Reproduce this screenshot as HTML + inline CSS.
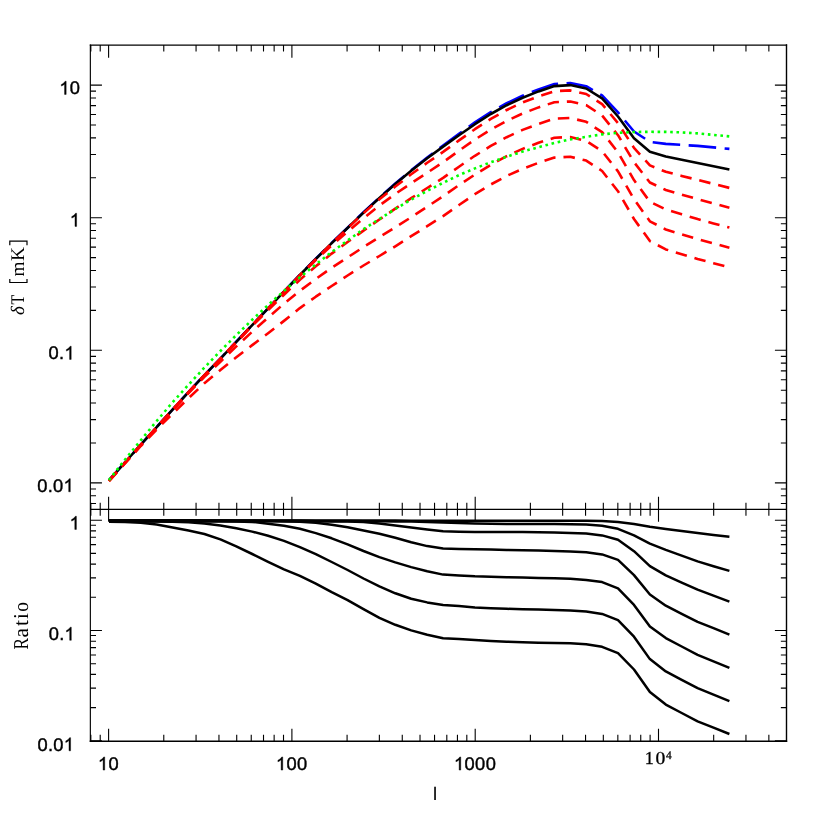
<!DOCTYPE html>
<html><head><meta charset="utf-8"><title>plot</title>
<style>
html,body{margin:0;padding:0;background:#fff;}
svg{display:block;will-change:transform;}
text{font-family:"Liberation Sans",sans-serif;font-size:18.3px;fill:#000;text-rendering:geometricPrecision;stroke:#000;stroke-width:0.45px;}
.serif text{font-family:"Liberation Serif",serif;stroke:none;}
.c{fill:none;stroke-width:2.6;stroke-linejoin:round;stroke-linecap:butt;}
</style></head><body>
<svg width="830" height="830" viewBox="0 0 830 830">
<rect width="830" height="830" fill="#fff"/>
<g class="c">
<path d="M109.0,480.2L124.9,462.4L140.8,444.6L156.7,427.0L172.6,409.5L188.5,392.0L204.4,375.0L220.4,358.6L236.3,341.7L252.2,325.0L268.1,308.3L284.0,291.5L299.9,274.8L315.8,258.7L331.7,242.9L347.6,227.7L363.5,212.3L379.4,197.6L395.3,183.6L411.2,170.2L427.2,157.6L443.1,145.5L459.0,133.8L474.9,122.4L490.8,112.2L506.7,103.2L522.6,95.7L538.5,89.4L554.4,84.1L570.3,83.0L586.2,86.2L602.1,95.4L618.0,112.4L634.0,131.5L649.9,141.8L665.8,143.9L681.7,144.9L697.6,145.9L713.5,147.4L729.4,148.9" stroke="#0000ff" stroke-dasharray="27.6 8.5"/>
<path d="M109.0,480.3L124.9,462.5L140.8,444.7L156.7,427.1L172.6,409.6L188.5,392.1L204.4,375.1L220.4,358.7L236.3,341.8L252.2,325.1L268.1,308.4L284.0,291.6L299.9,275.0L315.8,259.0L331.7,243.2L347.6,228.0L363.5,212.6L379.4,198.0L395.3,184.1L411.2,170.8L427.2,158.3L443.1,146.6L459.0,135.2L474.9,124.2L490.8,114.0L506.7,105.2L522.6,97.7L538.5,91.4L554.4,86.1L570.3,85.1L586.2,88.5L602.1,98.3L618.0,116.5L634.0,138.3L649.9,151.8L665.8,156.4L681.7,159.7L697.6,162.9L713.5,166.2L729.4,169.4" stroke="#000"/>
<g stroke="#ff0000" stroke-dasharray="11.5 7.95">
<path d="M109.0,480.5L124.9,462.7L140.8,444.9L156.7,427.2L172.6,409.7L188.5,392.3L204.4,375.3L220.4,358.8L236.3,342.0L252.2,325.2L268.1,308.6L284.0,291.8L299.9,275.2L315.8,259.2L331.7,243.4L347.6,228.3L363.5,213.1L379.4,199.3L395.3,186.6L411.2,174.3L427.2,162.8L443.1,151.9L459.0,140.4L474.9,129.2L490.8,118.9L506.7,110.0L522.6,102.5L538.5,96.4L554.4,91.2L570.3,90.4L586.2,94.0L602.1,104.1L618.0,123.1L634.0,147.9L649.9,165.4L665.8,171.8L681.7,175.9L697.6,179.9L713.5,183.9L729.4,187.9"/>
<path d="M109.0,480.6L124.9,462.8L140.8,445.0L156.7,427.4L172.6,409.9L188.5,392.4L204.4,375.4L220.4,359.0L236.3,342.2L252.2,325.4L268.1,308.8L284.0,292.0L299.9,275.5L315.8,260.1L331.7,245.4L347.6,231.7L363.5,218.2L379.4,205.5L395.3,193.9L411.2,183.3L427.2,172.8L443.1,162.2L459.0,150.7L474.9,139.6L490.8,129.5L506.7,120.8L522.6,113.5L538.5,107.4L554.4,102.2L570.3,101.5L586.2,105.2L602.1,115.5L618.0,135.2L634.0,162.2L649.9,182.5L665.8,190.0L681.7,194.6L697.6,199.2L713.5,203.5L729.4,207.7"/>
<path d="M109.0,480.8L124.9,463.0L140.8,445.2L156.7,427.6L172.6,410.1L188.5,392.6L204.4,375.6L220.4,359.2L236.3,342.4L252.2,325.8L268.1,310.2L284.0,294.7L299.9,279.8L315.8,266.3L331.7,253.6L347.6,242.0L363.5,230.6L379.4,219.5L395.3,208.7L411.2,198.2L427.2,188.0L443.1,177.9L459.0,166.7L474.9,155.8L490.8,145.9L506.7,137.2L522.6,129.9L538.5,123.9L554.4,118.7L570.3,118.0L586.2,121.8L602.1,132.1L618.0,152.3L634.0,180.1L649.9,201.8L665.8,209.5L681.7,214.3L697.6,219.1L713.5,223.4L729.4,227.6"/>
<path d="M109.0,481.0L124.9,463.2L140.8,445.4L156.7,427.8L172.6,410.3L188.5,393.1L204.4,376.9L220.4,361.7L236.3,346.4L252.2,331.7L268.1,317.5L284.0,303.7L299.9,290.8L315.8,279.0L331.7,267.8L347.6,257.4L363.5,247.1L379.4,237.1L395.3,227.3L411.2,217.2L427.2,206.7L443.1,196.2L459.0,185.1L474.9,174.6L490.8,164.8L506.7,156.2L522.6,148.9L538.5,142.8L554.4,137.7L570.3,137.1L586.2,140.9L602.1,151.3L618.0,171.4L634.0,199.2L649.9,221.3L665.8,229.5L681.7,234.3L697.6,239.1L713.5,243.4L729.4,247.7"/>
<path d="M109.0,481.1L124.9,463.5L140.8,446.0L156.7,429.5L172.6,413.7L188.5,398.2L204.4,383.2L220.4,370.0L236.3,357.3L252.2,345.1L268.1,333.2L284.0,320.9L299.9,308.1L315.8,296.7L331.7,286.0L347.6,275.5L363.5,265.5L379.4,256.0L395.3,246.3L411.2,236.2L427.2,226.1L443.1,216.1L459.0,205.0L474.9,194.2L490.8,184.5L506.7,175.9L522.6,168.8L538.5,162.8L554.4,157.6L570.3,156.8L586.2,160.6L602.1,171.0L618.0,191.2L634.0,219.0L649.9,241.1L665.8,249.4L681.7,254.2L697.6,259.0L713.5,263.2L729.4,267.4"/>
</g>
<path d="M109.0,480.1L124.9,459.7L140.8,440.3L156.7,421.0L172.6,402.3L188.5,384.8L204.4,367.6L220.4,351.0L236.3,335.1L252.2,319.8L268.1,305.1L284.0,290.9L299.9,277.3L315.8,264.4L331.7,252.0L347.6,240.5L363.5,229.2L379.4,219.0L395.3,209.0L411.2,199.6L427.2,190.9L443.1,182.8L459.0,175.1L474.9,168.4L490.8,162.3L506.7,156.7L522.6,151.6L538.5,147.2L554.4,142.9L570.3,139.4L586.2,136.8L602.1,134.4L618.0,132.9L634.0,132.0L649.9,131.8L665.8,131.9L681.7,132.4L697.6,133.4L713.5,134.9L729.4,136.4" stroke="#00ff00" stroke-dasharray="2.6 3.695"/>
<g stroke="#000" stroke-width="2.5">
<path d="M109.0,520.2L124.9,520.2L140.8,520.3L156.7,520.3L172.6,520.3L188.5,520.3L204.4,520.4L220.4,520.4L236.3,520.4L252.2,520.4L268.1,520.5L284.0,520.5L299.9,520.5L315.8,520.5L331.7,520.5L347.6,520.6L363.5,520.6L379.4,520.6L395.3,520.6L411.2,520.7L427.2,520.7L443.1,520.7L459.0,520.7L474.9,520.7L490.8,520.7L506.7,520.7L522.6,520.7L538.5,520.7L554.4,520.7L570.3,520.7L586.2,520.7L602.1,521.0L618.0,521.9L634.0,524.0L649.9,526.8L665.8,529.0L681.7,531.1L697.6,533.1L713.5,535.0L729.4,536.8"/><path d="M109.0,520.4L124.9,520.4L140.8,520.4L156.7,520.4L172.6,520.4L188.5,520.5L204.4,520.5L220.4,520.5L236.3,520.6L252.2,520.6L268.1,520.7L284.0,520.7L299.9,520.8L315.8,520.9L331.7,521.0L347.6,521.1L363.5,521.2L379.4,521.3L395.3,521.4L411.2,521.6L427.2,521.9L443.1,522.4L459.0,523.1L474.9,523.6L490.8,523.8L506.7,523.9L522.6,524.0L538.5,524.0L554.4,524.0L570.3,524.2L586.2,524.5L602.1,525.7L618.0,528.8L634.0,535.4L649.9,543.6L665.8,549.9L681.7,555.6L697.6,561.4L713.5,566.2L729.4,570.9"/><path d="M109.0,520.7L124.9,520.7L140.8,520.7L156.7,520.7L172.6,520.7L188.5,520.8L204.4,520.8L220.4,520.8L236.3,520.9L252.2,520.9L268.1,521.0L284.0,521.1L299.9,521.1L315.8,521.2L331.7,521.4L347.6,521.5L363.5,521.9L379.4,523.5L395.3,525.5L411.2,527.4L427.2,529.4L443.1,531.3L459.0,531.7L474.9,531.9L490.8,531.9L506.7,532.0L522.6,532.0L538.5,532.2L554.4,532.5L570.3,533.0L586.2,533.6L602.1,535.4L618.0,539.8L634.0,551.2L649.9,566.1L665.8,575.4L681.7,582.6L697.6,589.7L713.5,595.7L729.4,601.6"/><path d="M109.0,520.9L124.9,520.9L140.8,520.9L156.7,520.9L172.6,521.0L188.5,521.0L204.4,521.0L220.4,521.1L236.3,521.2L252.2,521.2L268.1,521.3L284.0,521.5L299.9,521.7L315.8,522.8L331.7,524.7L347.6,527.2L363.5,530.4L379.4,533.7L395.3,537.8L411.2,542.3L427.2,546.1L443.1,548.4L459.0,548.9L474.9,549.2L490.8,549.6L506.7,549.9L522.6,550.3L538.5,550.6L554.4,550.9L570.3,551.5L586.2,552.2L602.1,554.4L618.0,559.9L634.0,575.1L649.9,594.5L665.8,605.7L681.7,613.8L697.6,621.8L713.5,628.2L729.4,634.6"/><path d="M109.0,521.2L124.9,521.2L140.8,521.2L156.7,521.2L172.6,521.3L188.5,521.3L204.4,521.4L220.4,521.4L236.3,521.5L252.2,521.9L268.1,523.7L284.0,525.8L299.9,528.7L315.8,533.1L331.7,538.3L347.6,544.4L363.5,551.0L379.4,557.1L395.3,562.4L411.2,567.1L427.2,571.3L443.1,574.6L459.0,575.4L474.9,576.3L490.8,576.8L506.7,577.2L522.6,577.6L538.5,578.0L554.4,578.2L570.3,578.8L586.2,579.9L602.1,582.1L618.0,588.4L634.0,604.9L649.9,626.6L665.8,638.1L681.7,646.5L697.6,654.8L713.5,661.3L729.4,667.8"/><path d="M109.0,521.5L124.9,521.5L140.8,521.5L156.7,521.6L172.6,521.7L188.5,522.2L204.4,523.6L220.4,525.6L236.3,528.2L252.2,531.6L268.1,535.8L284.0,540.9L299.9,547.1L315.8,554.1L331.7,562.0L347.6,570.0L363.5,578.5L379.4,586.4L395.3,593.3L411.2,598.8L427.2,602.4L443.1,605.0L459.0,606.1L474.9,607.5L490.8,608.3L506.7,608.8L522.6,609.2L538.5,609.5L554.4,609.9L570.3,610.6L586.2,611.6L602.1,613.9L618.0,620.2L634.0,636.7L649.9,659.1L665.8,671.4L681.7,679.8L697.6,688.1L713.5,694.6L729.4,701.1"/><path d="M109.0,521.7L124.9,522.0L140.8,522.7L156.7,524.4L172.6,527.4L188.5,530.6L204.4,534.0L220.4,539.4L236.3,546.4L252.2,554.0L268.1,561.9L284.0,569.4L299.9,575.9L315.8,583.7L331.7,592.2L347.6,600.2L363.5,609.1L379.4,617.8L395.3,624.8L411.2,630.4L427.2,634.8L443.1,638.2L459.0,639.1L474.9,640.1L490.8,640.9L506.7,641.7L522.6,642.3L538.5,642.7L554.4,642.9L570.3,643.3L586.2,644.3L602.1,646.8L618.0,653.1L634.0,669.5L649.9,692.0L665.8,704.6L681.7,713.0L697.6,721.3L713.5,727.7L729.4,734.0"/>
</g>
</g>
<g fill="none" stroke="#000" stroke-linecap="square">
<path d="M90.35,45.05V741.25" stroke-width="1.15"/>
<path d="M90.35,45.05H786.5" stroke-width="1.15"/>
<path d="M786.5,45.05V741.25" stroke-width="1.4"/>
<path d="M90.35,741.25H786.5" stroke-width="1.35"/>
<path d="M90.35,509.27H786.5" stroke-width="1.25" stroke-linecap="butt"/>
<path d="M90.84,45.05V51.50M90.84,502.82V515.72M90.84,734.80V741.25M100.21,45.05V51.50M100.21,502.82V515.72M100.21,734.80V741.25M108.60,45.05V57.65M108.60,496.67V521.87M108.60,728.65V741.25M163.78,45.05V51.50M163.78,502.82V515.72M163.78,734.80V741.25M196.06,45.05V51.50M196.06,502.82V515.72M196.06,734.80V741.25M218.96,45.05V51.50M218.96,502.82V515.72M218.96,734.80V741.25M236.72,45.05V51.50M236.72,502.82V515.72M236.72,734.80V741.25M251.24,45.05V51.50M251.24,502.82V515.72M251.24,734.80V741.25M263.51,45.05V51.50M263.51,502.82V515.72M263.51,734.80V741.25M274.14,45.05V51.50M274.14,502.82V515.72M274.14,734.80V741.25M283.51,45.05V51.50M283.51,502.82V515.72M283.51,734.80V741.25M291.90,45.05V57.65M291.90,496.67V521.87M291.90,728.65V741.25M347.08,45.05V51.50M347.08,502.82V515.72M347.08,734.80V741.25M379.36,45.05V51.50M379.36,502.82V515.72M379.36,734.80V741.25M402.26,45.05V51.50M402.26,502.82V515.72M402.26,734.80V741.25M420.02,45.05V51.50M420.02,502.82V515.72M420.02,734.80V741.25M434.54,45.05V51.50M434.54,502.82V515.72M434.54,734.80V741.25M446.81,45.05V51.50M446.81,502.82V515.72M446.81,734.80V741.25M457.44,45.05V51.50M457.44,502.82V515.72M457.44,734.80V741.25M466.81,45.05V51.50M466.81,502.82V515.72M466.81,734.80V741.25M475.20,45.05V57.65M475.20,496.67V521.87M475.20,728.65V741.25M530.38,45.05V51.50M530.38,502.82V515.72M530.38,734.80V741.25M562.66,45.05V51.50M562.66,502.82V515.72M562.66,734.80V741.25M585.56,45.05V51.50M585.56,502.82V515.72M585.56,734.80V741.25M603.32,45.05V51.50M603.32,502.82V515.72M603.32,734.80V741.25M617.84,45.05V51.50M617.84,502.82V515.72M617.84,734.80V741.25M630.11,45.05V51.50M630.11,502.82V515.72M630.11,734.80V741.25M640.74,45.05V51.50M640.74,502.82V515.72M640.74,734.80V741.25M650.11,45.05V51.50M650.11,502.82V515.72M650.11,734.80V741.25M658.50,45.05V57.65M658.50,496.67V521.87M658.50,728.65V741.25M713.68,45.05V51.50M713.68,502.82V515.72M713.68,734.80V741.25M745.96,45.05V51.50M745.96,502.82V515.72M745.96,734.80V741.25M768.86,45.05V51.50M768.86,502.82V515.72M768.86,734.80V741.25M90.35,503.44H96.00M780.85,503.44H786.50M90.35,495.75H96.00M780.85,495.75H786.50M90.35,488.97H96.00M780.85,488.97H786.50M90.35,482.90H101.95M774.90,482.90H786.50M90.35,442.98H96.00M780.85,442.98H786.50M90.35,419.63H96.00M780.85,419.63H786.50M90.35,403.07H96.00M780.85,403.07H786.50M90.35,390.22H96.00M780.85,390.22H786.50M90.35,379.72H96.00M780.85,379.72H786.50M90.35,370.84H96.00M780.85,370.84H786.50M90.35,363.15H96.00M780.85,363.15H786.50M90.35,356.37H96.00M780.85,356.37H786.50M90.35,350.30H101.95M774.90,350.30H786.50M90.35,310.38H96.00M780.85,310.38H786.50M90.35,287.03H96.00M780.85,287.03H786.50M90.35,270.47H96.00M780.85,270.47H786.50M90.35,257.62H96.00M780.85,257.62H786.50M90.35,247.12H96.00M780.85,247.12H786.50M90.35,238.24H96.00M780.85,238.24H786.50M90.35,230.55H96.00M780.85,230.55H786.50M90.35,223.77H96.00M780.85,223.77H786.50M90.35,217.70H101.95M774.90,217.70H786.50M90.35,177.78H96.00M780.85,177.78H786.50M90.35,154.43H96.00M780.85,154.43H786.50M90.35,137.87H96.00M780.85,137.87H786.50M90.35,125.02H96.00M780.85,125.02H786.50M90.35,114.52H96.00M780.85,114.52H786.50M90.35,105.64H96.00M780.85,105.64H786.50M90.35,97.95H96.00M780.85,97.95H786.50M90.35,91.17H96.00M780.85,91.17H786.50M90.35,85.10H101.95M774.90,85.10H786.50M90.35,740.80H101.95M774.90,740.80H786.50M90.35,707.60H96.00M780.85,707.60H786.50M90.35,688.17H96.00M780.85,688.17H786.50M90.35,674.39H96.00M780.85,674.39H786.50M90.35,663.70H96.00M780.85,663.70H786.50M90.35,654.97H96.00M780.85,654.97H786.50M90.35,647.59H96.00M780.85,647.59H786.50M90.35,641.19H96.00M780.85,641.19H786.50M90.35,635.55H96.00M780.85,635.55H786.50M90.35,630.50H101.95M774.90,630.50H786.50M90.35,597.30H96.00M780.85,597.30H786.50M90.35,577.87H96.00M780.85,577.87H786.50M90.35,564.09H96.00M780.85,564.09H786.50M90.35,553.40H96.00M780.85,553.40H786.50M90.35,544.67H96.00M780.85,544.67H786.50M90.35,537.29H96.00M780.85,537.29H786.50M90.35,530.89H96.00M780.85,530.89H786.50M90.35,525.25H96.00M780.85,525.25H786.50M90.35,520.20H101.95M774.90,520.20H786.50" stroke-width="1.1" stroke-linecap="butt"/>
</g>
<path d="M763 0H583V1147Q518 1085 412.5 1023Q307 961 223 930V1104Q374 1175 487 1276Q600 1377 647 1472H763Z" transform="translate(59.35,94.40) scale(0.00894,-0.00894)" fill="#000" stroke="#000" stroke-width="44.8"/><text x="69.78" y="94.40" style="font-size:18.3px;stroke-width:0.4px">0</text><path d="M763 0H583V1147Q518 1085 412.5 1023Q307 961 223 930V1104Q374 1175 487 1276Q600 1377 647 1472H763Z" transform="translate(69.78,226.40) scale(0.00894,-0.00894)" fill="#000" stroke="#000" stroke-width="44.8"/><text x="48.62" y="359.40" style="font-size:18.3px;stroke-width:0.4px">0</text><text x="59.05" y="359.40" style="font-size:18.3px;stroke-width:0.4px">.</text><path d="M763 0H583V1147Q518 1085 412.5 1023Q307 961 223 930V1104Q374 1175 487 1276Q600 1377 647 1472H763Z" transform="translate(64.38,359.40) scale(0.00894,-0.00894)" fill="#000" stroke="#000" stroke-width="44.8"/><text x="37.30" y="491.80" style="font-size:18.3px;stroke-width:0.4px">0</text><text x="47.72" y="491.80" style="font-size:18.3px;stroke-width:0.4px">.</text><text x="53.06" y="491.80" style="font-size:18.3px;stroke-width:0.4px">0</text><path d="M763 0H583V1147Q518 1085 412.5 1023Q307 961 223 930V1104Q374 1175 487 1276Q600 1377 647 1472H763Z" transform="translate(63.48,491.80) scale(0.00894,-0.00894)" fill="#000" stroke="#000" stroke-width="44.8"/><path d="M763 0H583V1147Q518 1085 412.5 1023Q307 961 223 930V1104Q374 1175 487 1276Q600 1377 647 1472H763Z" transform="translate(69.58,529.40) scale(0.00894,-0.00894)" fill="#000" stroke="#000" stroke-width="44.8"/><text x="48.72" y="640.30" style="font-size:18.3px;stroke-width:0.4px">0</text><text x="59.15" y="640.30" style="font-size:18.3px;stroke-width:0.4px">.</text><path d="M763 0H583V1147Q518 1085 412.5 1023Q307 961 223 930V1104Q374 1175 487 1276Q600 1377 647 1472H763Z" transform="translate(64.48,640.30) scale(0.00894,-0.00894)" fill="#000" stroke="#000" stroke-width="44.8"/><text x="37.60" y="750.80" style="font-size:18.3px;stroke-width:0.4px">0</text><text x="48.02" y="750.80" style="font-size:18.3px;stroke-width:0.4px">.</text><text x="53.36" y="750.80" style="font-size:18.3px;stroke-width:0.4px">0</text><path d="M763 0H583V1147Q518 1085 412.5 1023Q307 961 223 930V1104Q374 1175 487 1276Q600 1377 647 1472H763Z" transform="translate(63.78,750.80) scale(0.00894,-0.00894)" fill="#000" stroke="#000" stroke-width="44.8"/><path d="M763 0H583V1147Q518 1085 412.5 1023Q307 961 223 930V1104Q374 1175 487 1276Q600 1377 647 1472H763Z" transform="translate(97.90,770.10) scale(0.00894,-0.00894)" fill="#000" stroke="#000" stroke-width="44.8"/><text x="108.48" y="770.10" style="font-size:18.3px;stroke-width:0.4px">0</text><path d="M763 0H583V1147Q518 1085 412.5 1023Q307 961 223 930V1104Q374 1175 487 1276Q600 1377 647 1472H763Z" transform="translate(275.92,770.10) scale(0.00894,-0.00894)" fill="#000" stroke="#000" stroke-width="44.8"/><text x="286.49" y="770.10" style="font-size:18.3px;stroke-width:0.4px">0</text><text x="297.07" y="770.10" style="font-size:18.3px;stroke-width:0.4px">0</text><path d="M763 0H583V1147Q518 1085 412.5 1023Q307 961 223 930V1104Q374 1175 487 1276Q600 1377 647 1472H763Z" transform="translate(453.93,770.10) scale(0.00894,-0.00894)" fill="#000" stroke="#000" stroke-width="44.8"/><text x="464.50" y="770.10" style="font-size:18.3px;stroke-width:0.4px">0</text><text x="475.08" y="770.10" style="font-size:18.3px;stroke-width:0.4px">0</text><text x="485.65" y="770.10" style="font-size:18.3px;stroke-width:0.4px">0</text><g class="serif"><text x="644.7" y="764.2" style="font-size:18.2px;stroke:#000;stroke-width:0.3px">1</text><text x="655.6" y="764.2" style="font-size:18.2px;stroke:#000;stroke-width:0.3px" transform="translate(655.6,0) scale(1.08,1) translate(-655.6,0)">0</text><text x="666.0" y="759.0" style="font-size:11.4px;stroke:#000;stroke-width:0.3px">4</text></g>
<text x="435.0" y="799.6" text-anchor="middle" style="stroke-width:0.15px">l</text>
<g class="serif">
<text transform="translate(24.1,314.9) rotate(-90)" style="font-size:19px;font-style:italic">δ</text>
<text transform="translate(24.1,304.4) rotate(-90) scale(0.82,1)" style="font-size:19.3px">T</text>
<text transform="translate(24.1,276.5) rotate(-90)" style="font-size:19.3px;letter-spacing:0.6px">mK</text>
<path d="M9.8,245.2V241.2H27V245.2M9.8,279V282.5H27V279" fill="none" stroke="#000" stroke-width="1.2"/>
<g text-anchor="middle">
<text transform="translate(27.8,643.8) rotate(-90) scale(0.82,1)" style="font-size:21.2px">R</text>
<text transform="translate(27.8,632.8) rotate(-90)" style="font-size:21.2px">a</text>
<text transform="translate(27.8,623.0) rotate(-90)" style="font-size:21.2px">t</text>
<text transform="translate(27.8,616.1) rotate(-90)" style="font-size:21.2px">i</text>
<text transform="translate(27.8,606.8) rotate(-90) scale(0.93,1)" style="font-size:21.2px">o</text>
</g>
</g>
</svg>
</body></html>
